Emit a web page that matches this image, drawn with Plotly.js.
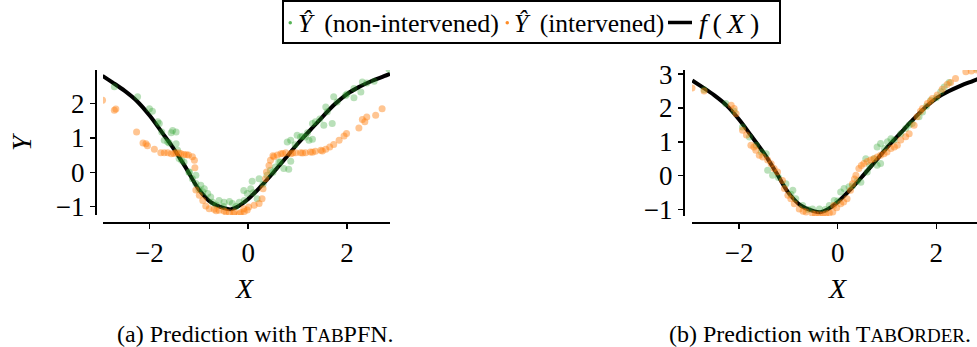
<!DOCTYPE html>
<html>
<head>
<meta charset="utf-8">
<script src="https://cdn.plot.ly/plotly-3.0.1.min.js"></script>
<style>html,body{margin:0;padding:0;background:#fff;}</style>
</head>
<body>
<div id="chart" style="width:977px;height:347px;"></div>
<script>
// f(X) ground-truth curve
const fX = [-2.95,-2.75,-2.5,-2.25,-2.0,-1.75,-1.5,-1.25,-1.0,-0.75,-0.5,-0.35,-0.2,0.0,0.25,0.5,0.75,1.0,1.25,1.5,1.75,2.0,2.25,2.5,2.75,2.87];
const fY = [2.81,2.62,2.37,2.07,1.66,1.17,0.67,0.10,-0.50,-0.88,-1.04,-1.08,-0.99,-0.78,-0.42,-0.02,0.40,0.83,1.22,1.61,1.98,2.28,2.49,2.66,2.80,2.87];

// (a) TabPFN - non-intervened
const gX_a = [-2.71,-2.24,-2.00,-1.94,-1.83,-1.80,-1.53,-1.46,-1.56,-1.70,-1.63,-1.46,-1.43,-1.40,-1.30,-1.19,-1.13,-1.06,-1.06,-0.96,-0.89,-0.92,-0.82,-0.76,-0.72,-0.59,-0.49,-0.38,-0.32,-0.18,-0.08,-0.09,-0.02,0.05,0.08,0.22,0.18,0.38,0.45,0.55,0.62,0.72,0.82,0.86,0.79,0.86,0.99,1.06,1.16,1.23,1.30,1.30,1.36,1.53,1.70,1.57,1.60,1.73,1.97,2.14,2.28,2.31,2.14,2.85,
  -1.75,-1.60,-1.35,-1.20,-1.00,-0.65,-0.50,-0.25,0.10,0.30,0.50,0.65,0.95,1.10,1.20,1.45,1.80,2.00,2.40,2.55];
const gY_a = [2.49,2.20,1.85,1.78,1.47,1.42,1.22,1.17,1.15,0.93,0.88,0.83,0.64,0.40,0.30,0.01,-0.19,-0.09,-0.33,-0.38,-0.48,-0.57,-0.62,-0.72,-0.87,-0.82,-0.87,-0.85,-0.91,-0.87,-0.82,-0.53,-0.62,-0.48,-0.26,-0.19,-0.77,-0.09,0.06,0.15,0.30,0.11,0.09,0.32,0.88,0.93,1.08,1.03,1.03,0.93,0.96,1.42,1.47,1.37,1.42,1.90,1.76,2.20,2.24,2.44,2.34,2.63,2.17,3.00,
  1.17,0.85,0.35,0.00,-0.50,-0.95,-1.00,-1.00,-0.60,-0.35,0.00,0.30,0.80,1.05,1.15,1.55,2.05,2.28,2.60,2.65];

// (a) TabPFN - intervened
const oX_a = [-2.95,-2.71,-2.68,-2.26,-2.13,-2.07,-2.04,-1.90,-1.77,-1.70,-1.63,-1.56,-1.46,-1.36,-1.30,-1.21,-1.13,-1.09,-1.08,-1.06,-0.99,-0.92,-0.86,-0.79,-0.69,-0.59,-0.49,-0.38,-0.28,-0.18,-0.08,-0.09,0.01,0.12,0.22,0.28,0.30,0.35,0.37,0.42,0.45,0.52,0.59,0.66,0.76,0.86,0.96,1.06,1.16,1.26,1.36,1.47,1.57,1.65,1.73,1.84,1.94,1.99,2.24,2.31,2.36,2.40,2.58,2.71,
  -1.50,-1.40,-1.25,-0.65,-0.45,-0.30,-0.15,-0.02,0.50,0.70,0.90,1.10,1.30,1.50];
const oY_a = [2.10,1.81,1.84,1.17,0.85,0.83,0.77,0.67,0.57,0.57,0.57,0.54,0.57,0.54,0.52,0.50,0.45,0.35,0.13,-0.52,-0.67,-0.82,-0.98,-1.06,-1.08,-1.11,-1.13,-1.18,-1.16,-1.21,-1.14,-1.06,-1.01,-0.96,-0.91,-0.77,-0.48,-0.19,0.01,0.20,0.35,0.45,0.50,0.54,0.57,0.54,0.57,0.57,0.57,0.59,0.61,0.64,0.67,0.74,0.81,0.93,1.06,1.13,1.29,1.54,1.47,1.61,1.66,1.85,
  0.55,0.56,0.51,-1.12,-1.16,-1.20,-1.17,-1.10,0.48,0.55,0.56,0.56,0.58,0.62];

// (b) TabOrder - non-intervened
const gX_b = [-2.71,-2.27,-1.93,-1.79,-1.45,-1.42,-1.32,-1.05,-0.91,-0.85,-0.71,-0.51,-0.37,-0.17,-0.07,0.06,0.13,0.23,0.47,0.60,0.80,0.87,0.74,0.57,0.80,0.87,1.01,1.08,1.28,1.38,1.51,1.65,1.72,1.89,2.09,2.16,2.26,2.83,
  -2.10,-1.65,-1.55,-1.20,-0.95,-0.60,-0.25,0.00,0.30,0.40,0.65,0.95,1.15,1.45,1.80,2.00];
const gY_b = [2.54,2.13,1.44,1.14,0.65,0.16,0.01,-0.24,-0.43,-0.68,-0.88,-0.98,-0.98,-0.88,-0.73,-0.48,-0.38,-0.33,-0.19,0.11,0.31,0.36,0.50,0.50,0.85,0.95,1.00,1.09,1.24,1.39,1.54,1.74,1.88,2.23,2.48,2.62,2.75,3.17,
  1.90,0.90,0.70,-0.05,-0.55,-1.00,-1.00,-0.75,-0.30,-0.15,0.30,0.80,1.05,1.50,2.05,2.30];

// (b) TabOrder - intervened
const oX_b = [-2.955,-2.71,-2.16,-2.10,-2.06,-1.93,-1.76,-1.66,-1.59,-1.52,-1.42,-1.29,-1.22,-1.12,-1.08,-1.01,-0.95,-0.88,-0.78,-0.64,-0.51,-0.37,-0.24,-0.10,-0.08,0.06,0.19,0.26,0.30,0.37,0.43,0.53,0.67,0.80,0.94,1.08,1.21,1.28,1.45,1.55,1.61,1.72,1.82,1.92,2.02,2.22,2.29,2.39,2.60,2.71,2.82,
  -1.85,-1.70,-1.35,-0.70,-0.45,-0.30,-0.17,-0.02,0.12,0.34,0.48,0.60,0.73,0.87,1.00,1.15,1.38,1.68,1.88,2.12];
const oY_b = [2.59,2.50,2.08,1.98,1.83,1.34,0.90,0.75,0.60,0.55,0.46,0.21,0.11,-0.14,-0.38,-0.58,-0.68,-0.83,-0.98,-1.07,-1.12,-1.15,-1.12,-1.07,-0.88,-0.83,-0.68,-0.43,-0.24,0.01,0.21,0.36,0.46,0.55,0.65,0.80,0.90,1.05,1.24,1.49,1.74,1.98,2.13,2.28,2.38,2.69,2.75,2.87,3.07,3.09,3.12,
  1.20,0.85,0.35,-1.05,-1.14,-1.15,-1.10,-0.95,-0.78,-0.10,0.30,0.42,0.50,0.60,0.70,0.85,1.15,1.90,2.20,2.55];

const xTicks = [-2, 0, 2];
const yTicksA = [-1, 0, 1, 2];
const yTicksB = [-1, 0, 1, 2, 3];

const GREEN = '#2ca02c', ORANGE = '#ff7f0e';
const W = 977, H = 347;
const px = v => v / W, py = v => 1 - v / H;
const SERIF = '"Liberation Serif", "Times New Roman", Times, serif';

function lineTrace(xa, ya) {
  return {x: fX, y: fY, xaxis: xa, yaxis: ya, mode: 'lines', type: 'scatter',
          line: {color: '#000', width: 4, shape: 'spline', smoothing: 1}, showlegend: false, hoverinfo: 'skip'};
}
function dots(x, y, color, xa, ya, op) {
  return {x: x, y: y, xaxis: xa, yaxis: ya, mode: 'markers', type: 'scatter',
          marker: {color: color, size: 7, opacity: op, line: {width: 0}}, showlegend: false};
}

const data = [
  lineTrace('x', 'y'),
  dots(gX_a, gY_a, GREEN, 'x', 'y', 0.33),
  dots(oX_a, oY_a, ORANGE, 'x', 'y', 0.45),
  lineTrace('x2', 'y2'),
  dots(gX_b, gY_b, GREEN, 'x2', 'y2', 0.33),
  dots(oX_b, oY_b, ORANGE, 'x2', 'y2', 0.45)
];

const tickfont = {family: SERIF, size: 27, color: '#000'};
function xAx(dom, rng) {
  return {domain: dom, range: rng, anchor: 'free', position: py(223), tickvals: xTicks,
          ticks: 'outside', ticklen: 5, tickwidth: 1.5, tickcolor: '#000',
          showline: true, linewidth: 2.2, linecolor: '#000', showgrid: false, zeroline: false,
          tickfont: tickfont, automargin: false};
}
function yAx(dom, rng, pos, tv) {
  return {domain: dom, range: rng, anchor: 'free', position: pos, tickvals: tv,
          ticks: 'outside', ticklen: 5, tickwidth: 1.5, tickcolor: '#000',
          showline: true, linewidth: 2.2, linecolor: '#000', showgrid: false, zeroline: false,
          tickfont: tickfont, automargin: false};
}

const annFont = s => ({family: SERIF, size: s, color: '#000'});
const NB = '\u00a0', TH = '\u2009';
const annotations = [
  {text: '<i>Y</i>', x: px(21), y: py(142), xref: 'paper', yref: 'paper', showarrow: false, textangle: -90,
   xanchor: 'center', yanchor: 'middle', font: annFont(28)},
  {text: '<i>X</i>', x: px(245), y: py(288), xref: 'paper', yref: 'paper', showarrow: false,
   xanchor: 'center', yanchor: 'middle', font: annFont(28)},
  {text: '<i>X</i>', x: px(837), y: py(288), xref: 'paper', yref: 'paper', showarrow: false,
   xanchor: 'center', yanchor: 'middle', font: annFont(28)},
  {text: '(a) Prediction with T<span style="font-size:19px">AB</span>PFN.', x: px(255), y: py(334), xref: 'paper', yref: 'paper',
   showarrow: false, xanchor: 'center', yanchor: 'middle', font: annFont(24)},
  {text: '(b) Prediction with T<span style="font-size:19px">AB</span>O<span style="font-size:19px">RDER</span>.', x: px(820), y: py(334), xref: 'paper', yref: 'paper',
   showarrow: false, xanchor: 'center', yanchor: 'middle', font: annFont(24)},
  {text: '<i>Ŷ</i>' + TH + ' (non-intervened)', x: px(296), y: py(23), xref: 'paper', yref: 'paper', showarrow: false,
   xanchor: 'left', yanchor: 'middle', font: annFont(26)},
  {text: '<i>Ŷ</i>' + TH + ' (intervened)', x: px(512), y: py(23), xref: 'paper', yref: 'paper', showarrow: false,
   xanchor: 'left', yanchor: 'middle', font: annFont(25.5)},
  {text: '<i>f</i>' + TH + '(' + TH + '<i>X</i>' + TH + ')', x: px(697), y: py(23), xref: 'paper', yref: 'paper', showarrow: false,
   xanchor: 'left', yanchor: 'middle', font: annFont(28)}
];

const shapes = [
  {type: 'rect', xref: 'paper', yref: 'paper', x0: px(283), x1: px(780), y0: py(43), y1: py(1), line: {color: '#000', width: 2}, fillcolor: 'rgba(0,0,0,0)'},
  {type: 'circle', xref: 'paper', yref: 'paper', x0: px(288.5), x1: px(292), y0: py(24.5), y1: py(21), line: {width: 0}, fillcolor: GREEN, opacity: 0.8},
  {type: 'circle', xref: 'paper', yref: 'paper', x0: px(505.5), x1: px(509), y0: py(24.5), y1: py(21), line: {width: 0}, fillcolor: ORANGE, opacity: 0.9},
  {type: 'line', xref: 'paper', yref: 'paper', x0: px(668), x1: px(692), y0: py(22.5), y1: py(22.5), line: {color: '#000', width: 3.5}}
];

const layout = {
  width: W, height: H,
  margin: {l: 0, r: 0, t: 0, b: 0, pad: 0},
  paper_bgcolor: '#fff', plot_bgcolor: '#fff',
  showlegend: false,
  font: {family: SERIF, color: '#000'},
  xaxis: xAx([px(103), px(390)], [-2.94, 2.87]),
  yaxis: yAx([1 - 215 / H, 1 - 70 / H], [-1.245, 2.98], px(96), yTicksA),
  xaxis2: xAx([px(692), 1], [-2.955, 2.826]),
  yaxis2: yAx([1 - 216 / H, 1 - 70 / H], [-1.19, 3.12], px(684), yTicksB),
  annotations: annotations,
  shapes: shapes
};

Plotly.newPlot('chart', data, layout, {displayModeBar: false, staticPlot: true});
</script>
</body>
</html>
